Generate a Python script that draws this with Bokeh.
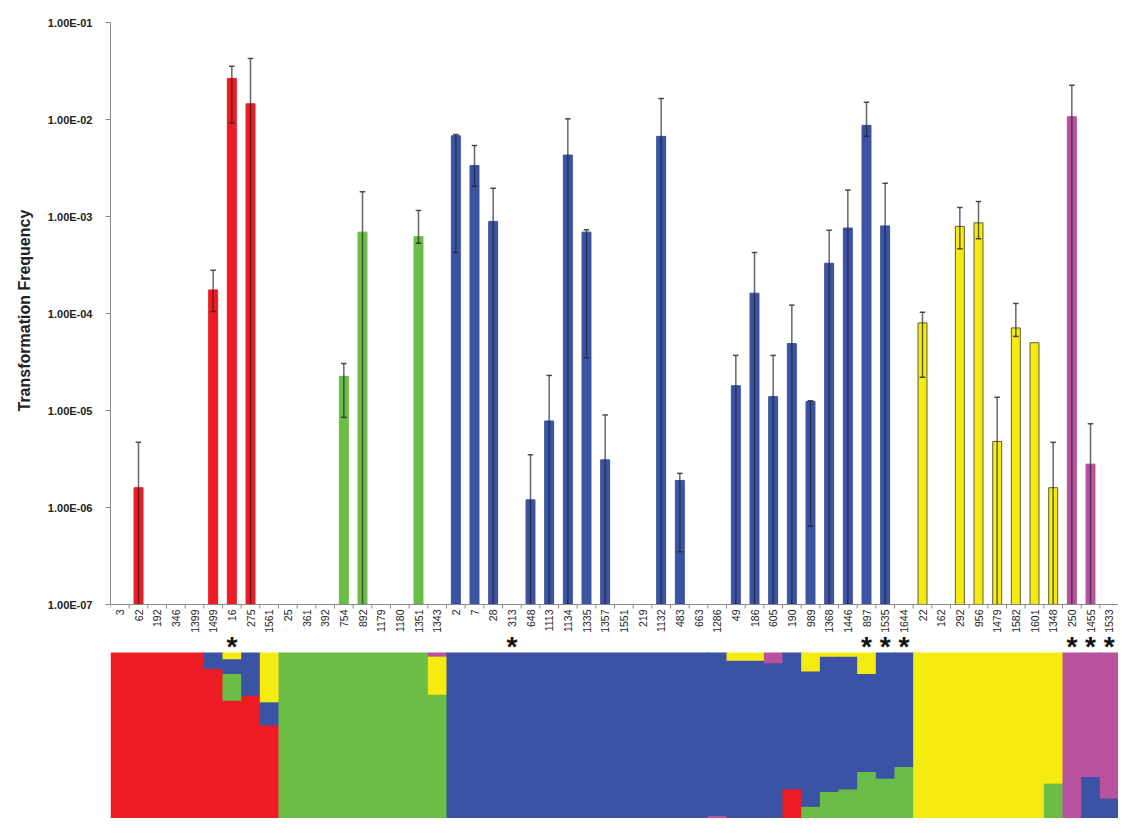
import math
from bokeh.plotting import figure
from bokeh.models import Range1d, FixedTicker, CustomJSTickFormatter, LinearScale, Title
from bokeh.core.properties import value
from bokeh.embed import file_html
from bokeh.resources import INLINE

# ---------------- data ----------------
categories = ["3", "62", "192", "346", "1399", "1499", "16", "275", "1561",
              "25", "361", "392", "754", "892", "1179", "1180", "1351", "1343",
              "2", "7", "28", "313", "648", "1113", "1134", "1335", "1357", "1551",
              "219", "1132", "483", "663", "1286", "49", "186", "605", "190", "989",
              "1368", "1446", "897", "1535", "1644",
              "22", "162", "292", "956", "1479", "1582", "1601", "1348",
              "250", "1455", "1533"]
groups = ["R"] * 9 + ["G"] * 9 + ["B"] * 25 + ["Y"] * 8 + ["M"] * 3

# transformation frequency (None = no bar)
freq = [None, 1.6e-6, None, None, None, 1.75e-4, 2.65e-2, 1.45e-2, None,
        None, None, None, 2.25e-5, 6.9e-4, None, None, 6.2e-4, None,
        6.8e-3, 3.35e-3, 8.9e-4, None, 1.2e-6, 7.8e-6, 4.3e-3, 6.9e-4, 3.1e-6, None,
        None, 6.7e-3, 1.9e-6, None, None, 1.8e-5, 1.62e-4, 1.39e-5, 4.9e-5, 1.24e-5,
        3.3e-4, 7.6e-4, 8.7e-3, 8.0e-4, None,
        8.0e-5, None, 7.9e-4, 8.6e-4, 4.8e-6, 7.1e-5, 5.0e-5, 1.6e-6,
        1.07e-2, 2.8e-6, None]
# upper end of error bar
err_hi = [None, 4.7e-6, None, None, None, 2.8e-4, 3.55e-2, 4.25e-2, None,
          None, None, None, 3.05e-5, 1.8e-3, None, None, 1.15e-3, None,
          7.0e-3, 5.4e-3, 1.95e-3, None, 3.5e-6, 2.3e-5, 1.02e-2, 7.3e-4, 9.0e-6, None,
          None, 1.65e-2, 2.25e-6, None, None, 3.7e-5, 4.25e-4, 3.7e-5, 1.22e-4, 1.26e-5,
          7.2e-4, 1.88e-3, 1.51e-2, 2.2e-3, None,
          1.03e-4, None, 1.24e-3, 1.43e-3, 1.37e-5, 1.27e-4, None, 4.7e-6,
          2.25e-2, 7.3e-6, None]
# lower end of error bar (0 = below the axis)
err_lo = [None, 0, None, None, None, 1.05e-4, 9.2e-3, 0, None,
          None, None, None, 8.5e-6, 0, None, None, 5.3e-4, None,
          4.25e-4, 2.05e-3, 0, None, 0, 0, 0, 3.5e-5, 0, None,
          None, 0, 3.5e-7, None, None, 0, 0, 0, 0, 6.4e-7,
          0, 0, 6.7e-3, 0, None,
          2.2e-5, None, 4.65e-4, 5.9e-4, 0, 5.8e-5, None, 0,
          0, 0, None]
starred = ["16", "313", "897", "1535", "1644", "250", "1455", "1533"]

# STRUCTURE membership, segments listed top -> bottom
structure = (
    [[("R", 1.0)]] * 5 +
    [[("B", 0.10), ("R", 0.90)],
     [("Y", 0.04), ("B", 0.09), ("G", 0.16), ("R", 0.71)],
     [("B", 0.26), ("R", 0.74)],
     [("Y", 0.30), ("B", 0.14), ("R", 0.56)]] +
    [[("G", 1.0)]] * 8 +
    [[("M", 0.025), ("Y", 0.23), ("G", 0.745)]] +
    [[("B", 1.0)]] * 14 +
    [[("B", 0.985), ("M", 0.015)],
     [("Y", 0.05), ("B", 0.95)],
     [("Y", 0.05), ("B", 0.95)],
     [("M", 0.065), ("B", 0.935)],
     [("B", 0.825), ("R", 0.175)],
     [("Y", 0.115), ("B", 0.815), ("G", 0.07)],
     [("Y", 0.025), ("B", 0.815), ("G", 0.16)],
     [("Y", 0.025), ("B", 0.80), ("G", 0.175)],
     [("Y", 0.13), ("B", 0.59), ("G", 0.28)],
     [("B", 0.76), ("G", 0.24)],
     [("B", 0.69), ("G", 0.31)]] +
    [[("Y", 1.0)]] * 7 +
    [[("Y", 0.79), ("G", 0.21)],
     [("M", 1.0)],
     [("M", 0.75), ("B", 0.25)],
     [("M", 0.88), ("B", 0.12)]]
)

colors = {"R": "#ED1C24", "G": "#6BBD45", "B": "#3A53A4", "Y": "#F5EB11", "M": "#B8519E"}

# ---------------- layout (pixel positions) ----------------
W, H = 1118, 818
FL, FT = 110, 22
Y7 = 604                      # pixel row of 1e-7
S_TOP = 652                   # top of structure panel
px_per_dec = (Y7 - FT) / 6.0
log_bot = -1 - (H - FT) / px_per_dec
unit_px = H - S_TOP
s_top = (H - FT) / unit_px
N = len(categories)
cat_px = (W - FL) / N


def u(px):
    return (H - px) / unit_px


FONT = value("Liberation Sans")

p = figure(width=W, height=H, x_range=Range1d(0, N),
           y_range=Range1d(10 ** log_bot, 1e-1), y_axis_type="log",
           x_axis_location=None, output_backend="svg", toolbar_location=None,
           min_border_left=FL, min_border_right=0, min_border_top=FT, min_border_bottom=0)
p.extra_y_ranges = {"s": Range1d(0, s_top)}
p.extra_y_scales = {"s": LinearScale()}
p.xgrid.visible = False
p.ygrid.visible = False
p.outline_line_color = None
p.background_fill_color = "white"

ax = p.yaxis[0]
ax.ticker = FixedTicker(ticks=[1e-7, 1e-6, 1e-5, 1e-4, 1e-3, 1e-2, 1e-1])
ax.bounds = (1e-7, 1e-1)
ax.formatter = CustomJSTickFormatter(
    code="return tick.toExponential(2).toUpperCase().replace(/E([+-])(\\d)$/, 'E$10$2');")
ax.minor_tick_line_color = None
ax.axis_line_color = "#8a8a8a"
ax.major_tick_line_color = "#8a8a8a"
ax.major_tick_out = 5
ax.major_tick_in = 0
ax.major_label_standoff = 13
ax.major_label_text_font = "Liberation Sans"
ax.major_label_text_font_style = "bold"
ax.major_label_text_font_size = "11px"
ax.major_label_text_color = "#222222"

# y-axis title placed as a left-side title
p.add_layout(Title(text="Transformation Frequency", align="left", offset=H - 411,
                   text_font="Liberation Sans", text_font_style="bold",
                   text_font_size="16px", text_color="#222222", standoff=23), "left")

# ---- structure plot (identical neighbouring cells merged) ----
cells = []
for k, segs in enumerate(structure):
    top = 1.0
    for cl, q in segs:
        cells.append([k, k + 1, top - q, top, cl])
        top -= q
merged = []
for c in cells:
    for m in merged:
        if m[1] == c[0] and m[4] == c[4] and abs(m[2] - c[2]) < 1e-9 and abs(m[3] - c[3]) < 1e-9:
            m[1] = c[1]
            break
    else:
        merged.append(list(c))
ovl = 1.2 / cat_px   # ~1px overlap to hide anti-alias seams
p.quad(left=[m[0] for m in merged], right=[m[1] + ovl for m in merged],
       bottom=[m[2] - 0.004 for m in merged], top=[m[3] for m in merged],
       fill_color=[colors[m[4]] for m in merged], line_color=None, y_range_name="s")

# ---- bars ----
bx, btop, bcol, bline = [], [], [], []
for i, v in enumerate(freq):
    if v is None:
        continue
    bx.append(i + 0.5); btop.append(v)
    bcol.append(colors[groups[i]])
    bline.append("#5e5e3a" if groups[i] == "Y" else colors[groups[i]])
p.vbar(x=bx, top=btop, bottom=1e-7, width=0.48, fill_color=bcol,
       line_color=bline, line_width=1)

# ---- error bars ----
ex, e0, e1, cx0, cx1, cy = [], [], [], [], [], []
for i, (hi, lo) in enumerate(zip(err_hi, err_lo)):
    if hi is None:
        continue
    lo_v = lo if lo >= 1e-7 else 1e-7
    ex.append(i + 0.5); e0.append(lo_v); e1.append(hi)
    cx0.append(i + 0.35); cx1.append(i + 0.65); cy.append(hi)
    if lo >= 1e-7:
        cx0.append(i + 0.35); cx1.append(i + 0.65); cy.append(lo)
p.segment(x0=ex, x1=ex, y0=e0, y1=e1, line_color="#262626", line_alpha=0.7, line_width=1.5)
p.segment(x0=cx0, x1=cx1, y0=cy, y1=cy, line_color="#262626", line_alpha=0.8, line_width=1.5)

# ---- x axis (drawn at 1e-7) ----
p.segment(x0=[0], x1=[N], y0=[1e-7], y1=[1e-7], line_color="#8a8a8a", line_width=1)
tk = list(range(N + 1))
p.segment(x0=tk, x1=tk, y0=[u(Y7)] * len(tk), y1=[u(Y7 + 4)] * len(tk),
          line_color="#8a8a8a", line_width=1, y_range_name="s")
p.text(x=[i + 0.5 for i in range(N)], y=[u(Y7 + 5)] * N, text=categories,
       angle=math.pi / 2, text_align="right", text_baseline="middle",
       text_font=FONT, text_font_size="10.5px", text_color="#1a1a1a", y_range_name="s")

# ---- asterisks ----
sx = [categories.index(c) + 0.5 for c in starred]
p.text(x=sx, y=[u(646)] * len(sx), text=["*"] * len(sx), text_align="center",
       text_baseline="middle", text_font=FONT, text_font_style="bold",
       text_font_size="28px", text_color="#111111", y_range_name="s")

open("out.html", "w").write(file_html(p, INLINE))
